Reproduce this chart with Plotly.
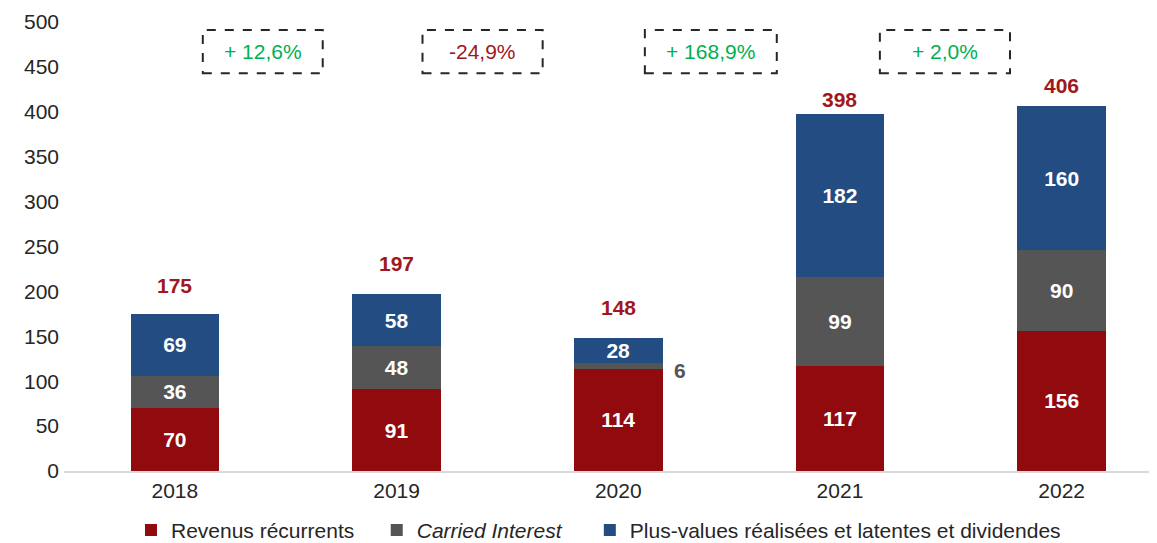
import plotly.graph_objects as go

# Données
annees = ['2018', '2019', '2020', '2021', '2022']
revenus_recurrents = [70, 91, 114, 117, 156]
carried_interest = [36, 48, 6, 99, 90]
plus_values = [69, 58, 28, 182, 160]
totaux = [175, 197, 148, 398, 406]
variations = ['+ 12,6%', '-24,9%', '+ 168,9%', '+ 2,0%']
variations_positives = [True, False, True, True]

ROUGE = '#910A0E'
GRIS = '#555555'
BLEU = '#234D82'
ROUGE_TXT = '#A0171C'
VERT = '#00B050'
POLICE = 'Arial, Liberation Sans, sans-serif'
TAILLE = 21
NBSP = '\u00a0'                                      # espace entre entrées de légende

fig = go.Figure()

# Barres empilées (le "6" de 2020 est écrit à côté de la barre)
ci_txt = [str(v) if v >= 15 else '' for v in carried_interest]
series = [
    ('Revenus récurrents' + NBSP * 3, revenus_recurrents, ROUGE, [str(v) for v in revenus_recurrents]),
    ('<i>Carried Interest</i>' + NBSP * 4, carried_interest, GRIS, ci_txt),
    ('Plus-values réalisées et latentes et dividendes', plus_values, BLEU, [str(v) for v in plus_values]),
]
for nom, vals, couleur, txt in series:
    fig.add_trace(go.Bar(
        x=annees, y=vals, name=nom, width=0.4,
        marker=dict(color=couleur, line=dict(width=0)),
        text=txt, textposition='inside', insidetextanchor='middle',
        constraintext='none', cliponaxis=False,
        textfont=dict(family=POLICE, size=TAILLE, color='white', weight='bold'),
        textangle=0, hoverinfo='y+name',
    ))

# Totaux au-dessus des barres
decalage_totaux = [28, 31, 31, 14, 21]
for i, (tot, dy) in enumerate(zip(totaux, decalage_totaux)):
    fig.add_annotation(x=i, y=tot, text=str(tot), showarrow=False, yshift=dy,
                       font=dict(family=POLICE, size=TAILLE, color=ROUGE_TXT, weight='bold'))

# Petit segment 2020 étiqueté à l'extérieur
for i, v in enumerate(carried_interest):
    if v < 15:
        fig.add_annotation(x=i + 0.28, y=revenus_recurrents[i] + v / 2, text=str(v),
                           showarrow=False, yshift=-5,
                           font=dict(family=POLICE, size=TAILLE, color=GRIS, weight='bold'))

# Encadrés de variation (pointillés)
boites = [(0.126, 0.667), (1.117, 1.659), (2.12, 2.715), (3.18, 3.767)]
for (x0, x1), txt, pos in zip(boites, variations, variations_positives):
    fig.add_shape(type='rect', xref='x', yref='y', x0=x0, x1=x1, y0=443, y1=491,
                  line=dict(color='#262626', width=2, dash='dash'))
    fig.add_annotation(x=(x0 + x1) / 2, y=467, text=txt, showarrow=False,
                       font=dict(family=POLICE, size=TAILLE, color=VERT if pos else ROUGE_TXT))

# La page HTML ajoute une marge de 8 px autour de la figure : on compense
fig.update_layout(
    barmode='stack',
    width=1149, height=535,
    margin=dict(l=56, r=0, t=14, b=72, autoexpand=False),
    plot_bgcolor='white', paper_bgcolor='white',
    font=dict(family=POLICE, size=TAILLE, color='#262626'),
    xaxis=dict(type='category', range=[-0.5, 4.43], showgrid=False,
               showline=True, linecolor='#D9D9D9', linewidth=2, ticks=''),
    yaxis=dict(range=[0, 500], dtick=50, showgrid=False, zeroline=False,
               showline=False, ticks='', ticklabelstandoff=4),
    legend=dict(orientation='h', x=0.489, xanchor='center', y=-0.132, yanchor='middle',
                font=dict(family=POLICE, size=TAILLE, color='#262626'),
                itemwidth=30, traceorder='normal'),
    showlegend=True,
)

fig.write_html("out.html")
